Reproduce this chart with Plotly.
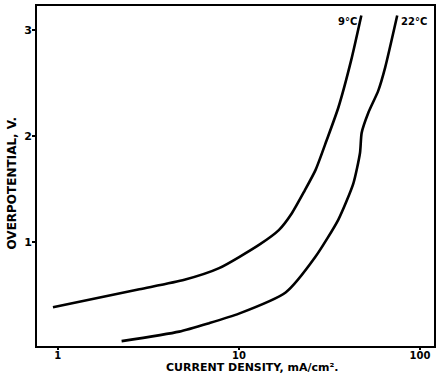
import math
import plotly.graph_objects as go

# Polarisation curves: overpotential vs. current density at two temperatures
cd_9c = [0.94, 2.82, 5.0, 7.77, 12.9, 16.6, 19.6, 23.0, 26.5, 30.5, 35.4, 41.7, 47.4]
ov_9c = [0.38, 0.55, 0.64, 0.75, 0.97, 1.11, 1.27, 1.48, 1.68, 1.96, 2.27, 2.72, 3.14]

cd_22c = [2.25, 4.68, 6.84, 10.0, 18.1, 26.5, 35.4, 42.8, 46.6, 47.6, 51.8, 58.8, 64.2, 74.8]
ov_22c = [0.06, 0.15, 0.23, 0.32, 0.52, 0.86, 1.21, 1.55, 1.84, 2.03, 2.22, 2.43, 2.65, 3.14]

x_ticks = [1, 10, 100]
x_tick_text = ["1", "10", "100"]
y_ticks = [1, 2, 3]
y_tick_text = ["1", "2", "3"]

FONT = "DejaVu Sans"
line_style = dict(color="black", width=2.6, shape="spline", smoothing=0.6)

fig = go.Figure()
fig.add_trace(go.Scatter(x=cd_9c, y=ov_9c, mode="lines", line=line_style, name="9°C"))
fig.add_trace(go.Scatter(x=cd_22c, y=ov_22c, mode="lines", line=line_style, name="22°C"))

# Curve labels at the top of each line
for text, xv in [("9°C", 40.0), ("22°C", 92.0)]:
    fig.add_annotation(x=math.log10(xv), y=3.08, text=f"<b>{text}</b>", showarrow=False,
                       font=dict(family=FONT, size=10, color="black"))

# Axis titles
fig.add_annotation(xref="paper", yref="paper", x=0.544, y=-0.0853,
                   xanchor="center", yanchor="bottom", showarrow=False, borderpad=0,
                   text="<b>CURRENT DENSITY, mA/cm².</b>",
                   font=dict(family=FONT, size=11, color="black"))
fig.add_annotation(xref="paper", yref="paper", x=-0.062, y=0.479,
                   xanchor="center", yanchor="middle", showarrow=False, textangle=-90,
                   text="<b>OVERPOTENTIAL, V.</b>",
                   font=dict(family=FONT, size=12, color="black"))

fig.update_layout(
    width=439, height=375,
    margin=dict(l=37, r=3, t=6, b=29),
    paper_bgcolor="white", plot_bgcolor="white",
    showlegend=False,
    font=dict(family=FONT, color="black"),
)
fig.update_xaxes(
    type="log", range=[-0.115, 2.077],
    tickvals=x_ticks, ticktext=[f"<b>{t}</b>" for t in x_tick_text],
    tickfont=dict(family=FONT, size=10, color="black"),
    ticks="outside", ticklen=2, tickwidth=1.5, tickcolor="black",
    ticklabelstandoff=-3,
    showline=True, linecolor="black", linewidth=2, mirror=True,
    showgrid=False, zeroline=False,
)
fig.update_yaxes(
    range=[0.014, 3.23],
    tickvals=y_ticks, ticktext=[f"<b>{t}</b>" for t in y_tick_text],
    tickfont=dict(family=FONT, size=11, color="black"),
    ticks="outside", ticklen=3, tickwidth=1.5, tickcolor="black",
    ticklabelstandoff=-2,
    showline=True, linecolor="black", linewidth=2, mirror=True,
    showgrid=False, zeroline=False,
)

fig.write_html("out.html")
